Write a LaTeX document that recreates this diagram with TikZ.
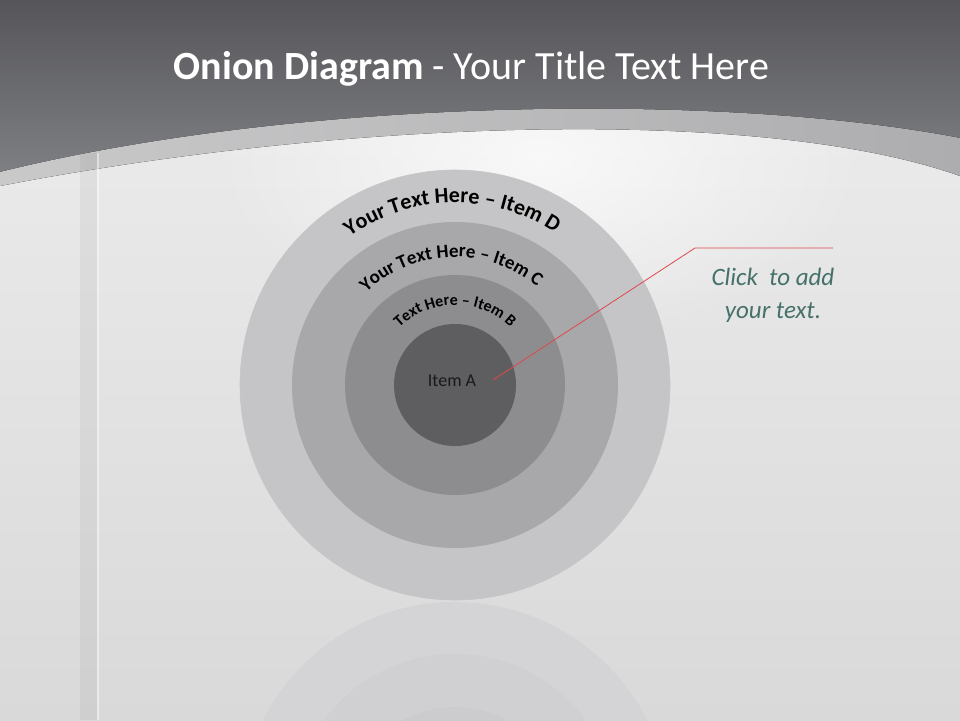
\documentclass[tikz,border=0pt]{standalone}
\usepackage{fontspec}
\setmainfont{Carlito}
\usetikzlibrary{decorations.text,fadings}

\definecolor{bandtop}{HTML}{56565A}
\definecolor{bandbot}{HTML}{7E7F83}
\definecolor{stripL}{HTML}{C9C9CA}
\definecolor{stripR}{HTML}{ADADAF}
\definecolor{pagetop}{HTML}{EEEEEE}
\definecolor{pagebot}{HTML}{D9D9D9}
\definecolor{ringD}{HTML}{C5C5C7}
\definecolor{ringC}{HTML}{A8A8AB}
\definecolor{ringB}{HTML}{8D8D90}
\definecolor{ringA}{HTML}{5E5E61}
\definecolor{mirrD}{HTML}{D4D4D6}
\definecolor{mirrC}{HTML}{D0D0D2}
\definecolor{mirrB}{HTML}{CCCCCE}
\definecolor{pinred}{HTML}{E0474C}
\definecolor{notecol}{HTML}{46706A}

\newcommand\fontD{\bfseries\fontsize{22}{22}\selectfont}
\newcommand\fontC{\bfseries\fontsize{19}{19}\selectfont}
\newcommand\fontB{\bfseries\fontsize{16}{16}\selectfont}

\tikzfading[name=glow, inner color=transparent!0, outer color=transparent!100]

\begin{document}
\begin{tikzpicture}[x=1pt, y=1pt,
    ring/.style={circle, draw=none, inner sep=0pt, minimum size=2*#1},
    ringtext/.style={decorate, decoration={text along path, text align=center, text={#1}}}]
    \useasboundingbox (0,0) rectangle (960,720);
    \clip (0,0) rectangle (960,720);

    % page background
    \fill[top color=pagetop, bottom color=pagebot] (0,0) rectangle (960,720);
    \fill[white, opacity=0.7, path fading=glow] (540,560) ellipse (330 and 180);

    % title band and light strip
    \fill[top color=bandtop, bottom color=bandbot] (0,720) -- (960,720) -- (960,582)
        .. controls (720,628) and (300,622) .. (0,548) -- cycle;
    \fill[left color=stripL, right color=stripR] (0,548) .. controls (300,622) and (720,628) .. (960,582)
        -- (960,544) .. controls (760,615) and (340,600) .. (0,534) -- cycle;

    % left glass bar
    \fill[gray, opacity=0.1] (80,0) rectangle (97,567);
    \fill[white, opacity=0.45] (97,0) rectangle (99,567);

    \node[text=white, font=\fontsize{40}{40}\selectfont, anchor=base] (title) at (471.5,640)
        {\textbf{Onion Diagram} - Your Title Text Here};

    % reflection below the onion
    \coordinate (mirror) at (455,-97);
    \node[ring=215, fill=mirrD] (mirrD) at (mirror) {};
    \node[ring=163, fill=mirrC] (mirrC) at (mirror) {};
    \node[ring=110, fill=mirrB] (mirrB) at (mirror) {};

    % the onion
    \coordinate (onion) at (455,335);
    \node[ring=215, fill=ringD, draw=gray!45, line width=0.6pt] (itemD) at (onion) {};
    \node[ring=163, fill=ringC] (itemC) at (onion) {};
    \node[ring=110, fill=ringB] (itemB) at (onion) {};
    \node[ring=61, fill=ringA] (itemA) at (onion) {};

    \path[ringtext={|\fontD|Your Text Here – Item D}]
        ([shift={(161:182)}]onion) arc[start angle=161, end angle=21, radius=182];
    \path[ringtext={|\fontC|Your Text Here – Item C}]
        ([shift={(162:128)}]onion) arc[start angle=162, end angle=22, radius=128];
    \path[ringtext={|\fontB|Text Here – Item B}]
        ([shift={(160:80)}]onion) arc[start angle=160, end angle=20, radius=80];

    \node[anchor=base, text=black!90, font=\fontsize{18}{18}\selectfont] (labelA) at (452,333) {Item A};

    % callout
    \coordinate (pin) at (493,340);
    \coordinate (elbow) at (695,472);
    \coordinate (tip) at (833,472);
    \draw[pinred, line width=0.8pt] (pin) -- (elbow) -- (tip);

    \node[align=center, inner sep=0pt, text=notecol, font=\itshape\fontsize{25}{33}\selectfont]
        (note) at (773,424.5) {Click\ \ to add\\your text.};
\end{tikzpicture}
\end{document}
